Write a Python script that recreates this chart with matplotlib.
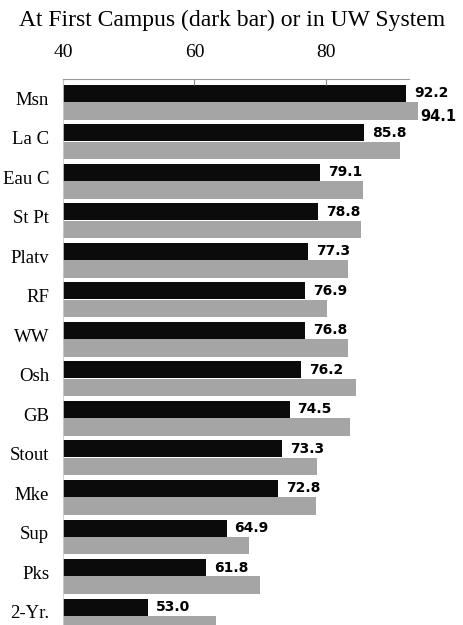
# Graduation rates: first campus (dark) vs anywhere in UW System (light)
import numpy as np
import matplotlib.pyplot as plt

campuses = ['Msn', 'La C', 'Eau C', 'St Pt', 'Platv', 'RF', 'WW',
            'Osh', 'GB', 'Stout', 'Mke', 'Sup', 'Pks', '2-Yr.']
first_campus = [92.2, 85.8, 79.1, 78.8, 77.3, 76.9, 76.8,
                76.2, 74.5, 73.3, 72.8, 64.9, 61.8, 53.0]
uw_system = [94.1, 91.3, 85.7, 85.4, 83.4, 80.2, 83.4,
             84.6, 83.7, 78.7, 78.5, 68.3, 70.0, 63.3]
x_ticks = [40, 60, 80]

plt.rcParams['font.family'] = ['Liberation Serif', 'DejaVu Serif']

fig = plt.figure(figsize=(4.64, 6.25), dpi=100)
ax = fig.add_axes([63 / 464, 0, 1 - 63 / 464, 1 - 79 / 625])

y = np.arange(len(campuses))
ax.barh(y - 0.225, [v - 40 for v in first_campus], left=40, height=0.43,
        color='#0b0b0b')
ax.barh(y + 0.22, [v - 40 for v in uw_system], left=40, height=0.45,
        color='#a5a5a5')

# value labels on the dark bars
for yi, v in zip(y, first_campus):
    ax.text(v + 1.2, yi - 0.225, f'{v:.1f}', va='center', ha='left',
            fontsize=10, fontweight='bold', family='DejaVu Sans')
# only Madison gets a label on the light bar
ax.text(uw_system[0] + 0.2, 0.36, f'{uw_system[0]:.1f}', va='center',
        ha='left', fontsize=10.5, fontweight='bold', family='DejaVu Sans')

ax.set_xlim(40, 40 + (464 - 63) / 6.57)
ax.set_ylim(13.23, -0.59)

ax.set_yticks(y - 0.1, labels=campuses, fontsize=13.5)
ax.tick_params(axis='y', length=0, pad=10)

ax.xaxis.tick_top()
ax.set_xticks(x_ticks, labels=[str(t) for t in x_ticks], fontsize=14)
ax.tick_params(axis='x', direction='in', length=4, width=0.8,
               color='#888888', pad=13)

for side in ['right', 'bottom']:
    ax.spines[side].set_visible(False)
ax.spines['top'].set_bounds(40, 92.6)
ax.spines['top'].set_color('#999999')
ax.spines['top'].set_linewidth(0.8)
ax.spines['left'].set_color('#cccccc')
ax.spines['left'].set_linewidth(0.6)

fig.text(0.5, 1 - 20 / 625, 'At First Campus (dark bar) or in UW System',
         ha='center', va='center', fontsize=17)

fig.savefig('out.png', dpi=100)
